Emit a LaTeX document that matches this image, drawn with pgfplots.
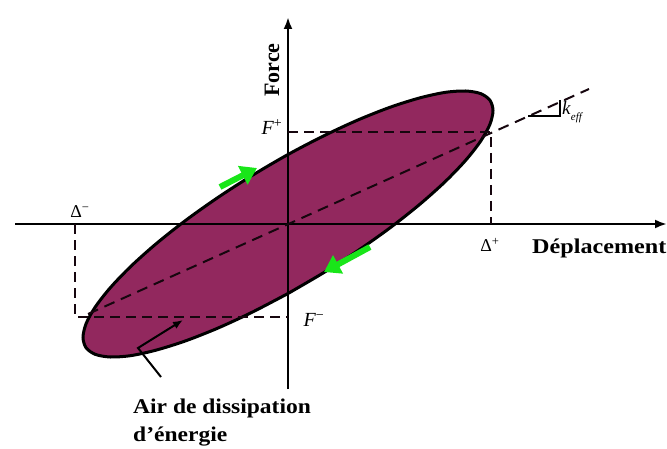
\documentclass[border=0pt]{standalone}
\usepackage{pgfplots}
\pgfplotsset{compat=1.18}
\usepackage{fontspec}
\setmainfont{Liberation Serif}
\usetikzlibrary{arrows.meta}
\definecolor{loopc}{RGB}{146,40,94}
\definecolor{grn}{RGB}{25,230,25}
\begin{document}
\begin{tikzpicture}
\begin{axis}[width=667pt,height=448pt,scale only axis,
  xmin=-288,xmax=379,ymin=-224,ymax=224,hide axis,clip=false]
% hysteresis loop
\addplot[fill=loopc,draw=black,line width=3pt,smooth] coordinates {
(0,-69.5) (-35.6,-88.1) (-70.1,-104.1) (-102.5,-116.9) (-131.8,-126.1)
(-157.0,-131.6) (-177.5,-133.0) (-192.6,-130.4) (-201.9,-123.8) (-205,-113.4)
(-201.9,-99.6) (-192.6,-82.8) (-177.5,-63.5) (-157.0,-42.2) (-131.8,-19.7)
(-102.5,3.5) (-70.1,26.5) (-35.6,48.7) (0,69.5) (35.6,88.1) (70.1,104.1)
(102.5,116.9) (131.8,126.1) (157.0,131.6) (177.5,133.0) (192.6,130.4)
(201.9,123.8) (205,113.4) (201.9,99.6) (192.6,82.8) (177.5,63.5)
(157.0,42.2) (131.8,19.7) (102.5,-3.5) (70.1,-26.5) (35.6,-48.7) (0,-69.5)
};
% axes
\addplot[black,line width=2.4pt,-{Latex[length=12pt,width=9pt]}] coordinates {(-273,0) (379,0)};
\addplot[black,line width=2.4pt,-{Latex[length=12pt,width=9pt]}] coordinates {(0,-165) (0,207)};
% dashed lines
\addplot[black!85!loopc,line width=2pt,dash pattern=on 11pt off 7pt] coordinates {(-200,-90) (301,135)};
\addplot[black!85!loopc,line width=1.6pt,dash pattern=on 10pt off 6pt] coordinates {(0,92) (203,92) (203,0)};
\addplot[black!85!loopc,line width=1.6pt,dash pattern=on 10pt off 6pt] coordinates {(-213,0) (-213,-93) (0,-93)};
% k_eff triangle
\addplot[black,line width=1.8pt] coordinates {(240,108) (272,108) (272,124)};
% green arrows
\addplot[grn,line width=6pt,-{Triangle[length=16pt,width=20pt]}] coordinates {(-68,37) (-31,56)};
\addplot[grn,line width=6pt,-{Triangle[length=16pt,width=20pt]}] coordinates {(82,-23) (36,-48)};
% annotation arrow
\addplot[black,line width=2pt,-{Latex[length=10pt,width=8pt]}] coordinates {(-127,-153) (-150,-124) (-105,-96)};
% labels
\node[rotate=90,font=\bfseries\fontsize{22}{24}\selectfont] at (axis cs:-16,154) {Force};
\node[font=\fontsize{20}{22}\selectfont] at (axis cs:-16,97) {\textit{F}\textsuperscript{+}};
\node[font=\fontsize{20}{22}\selectfont] at (axis cs:26,-96) {\textit{F}\textsuperscript{−}};
\node[font=\fontsize{18}{20}\selectfont] at (axis cs:-208,12) {Δ\textsuperscript{−}};
\node[font=\fontsize{18}{20}\selectfont] at (axis cs:202,-21) {Δ\textsuperscript{+}};
\node[font=\bfseries\fontsize{21}{24}\selectfont,anchor=west,inner sep=0pt] at (axis cs:244,-24) {\scalebox{1.15}[1]{Déplacement}};
\node[font=\fontsize{19}{20}\selectfont,anchor=west,inner sep=0pt] at (axis cs:274,112) {\textit{k}\raisebox{-6pt}{\fontsize{11}{12}\selectfont\textit{eff}}};
\node[font=\bfseries\fontsize{21}{24}\selectfont,anchor=west,inner sep=0pt] at (axis cs:-155,-184) {\scalebox{1.12}[1]{Air de dissipation}};
\node[font=\bfseries\fontsize{21}{24}\selectfont,anchor=west,inner sep=0pt] at (axis cs:-155,-213) {\scalebox{1.12}[1]{d’énergie}};
\end{axis}
\pgfresetboundingbox
\path (current axis.south west) rectangle (current axis.north east);
\end{tikzpicture}
\end{document}
